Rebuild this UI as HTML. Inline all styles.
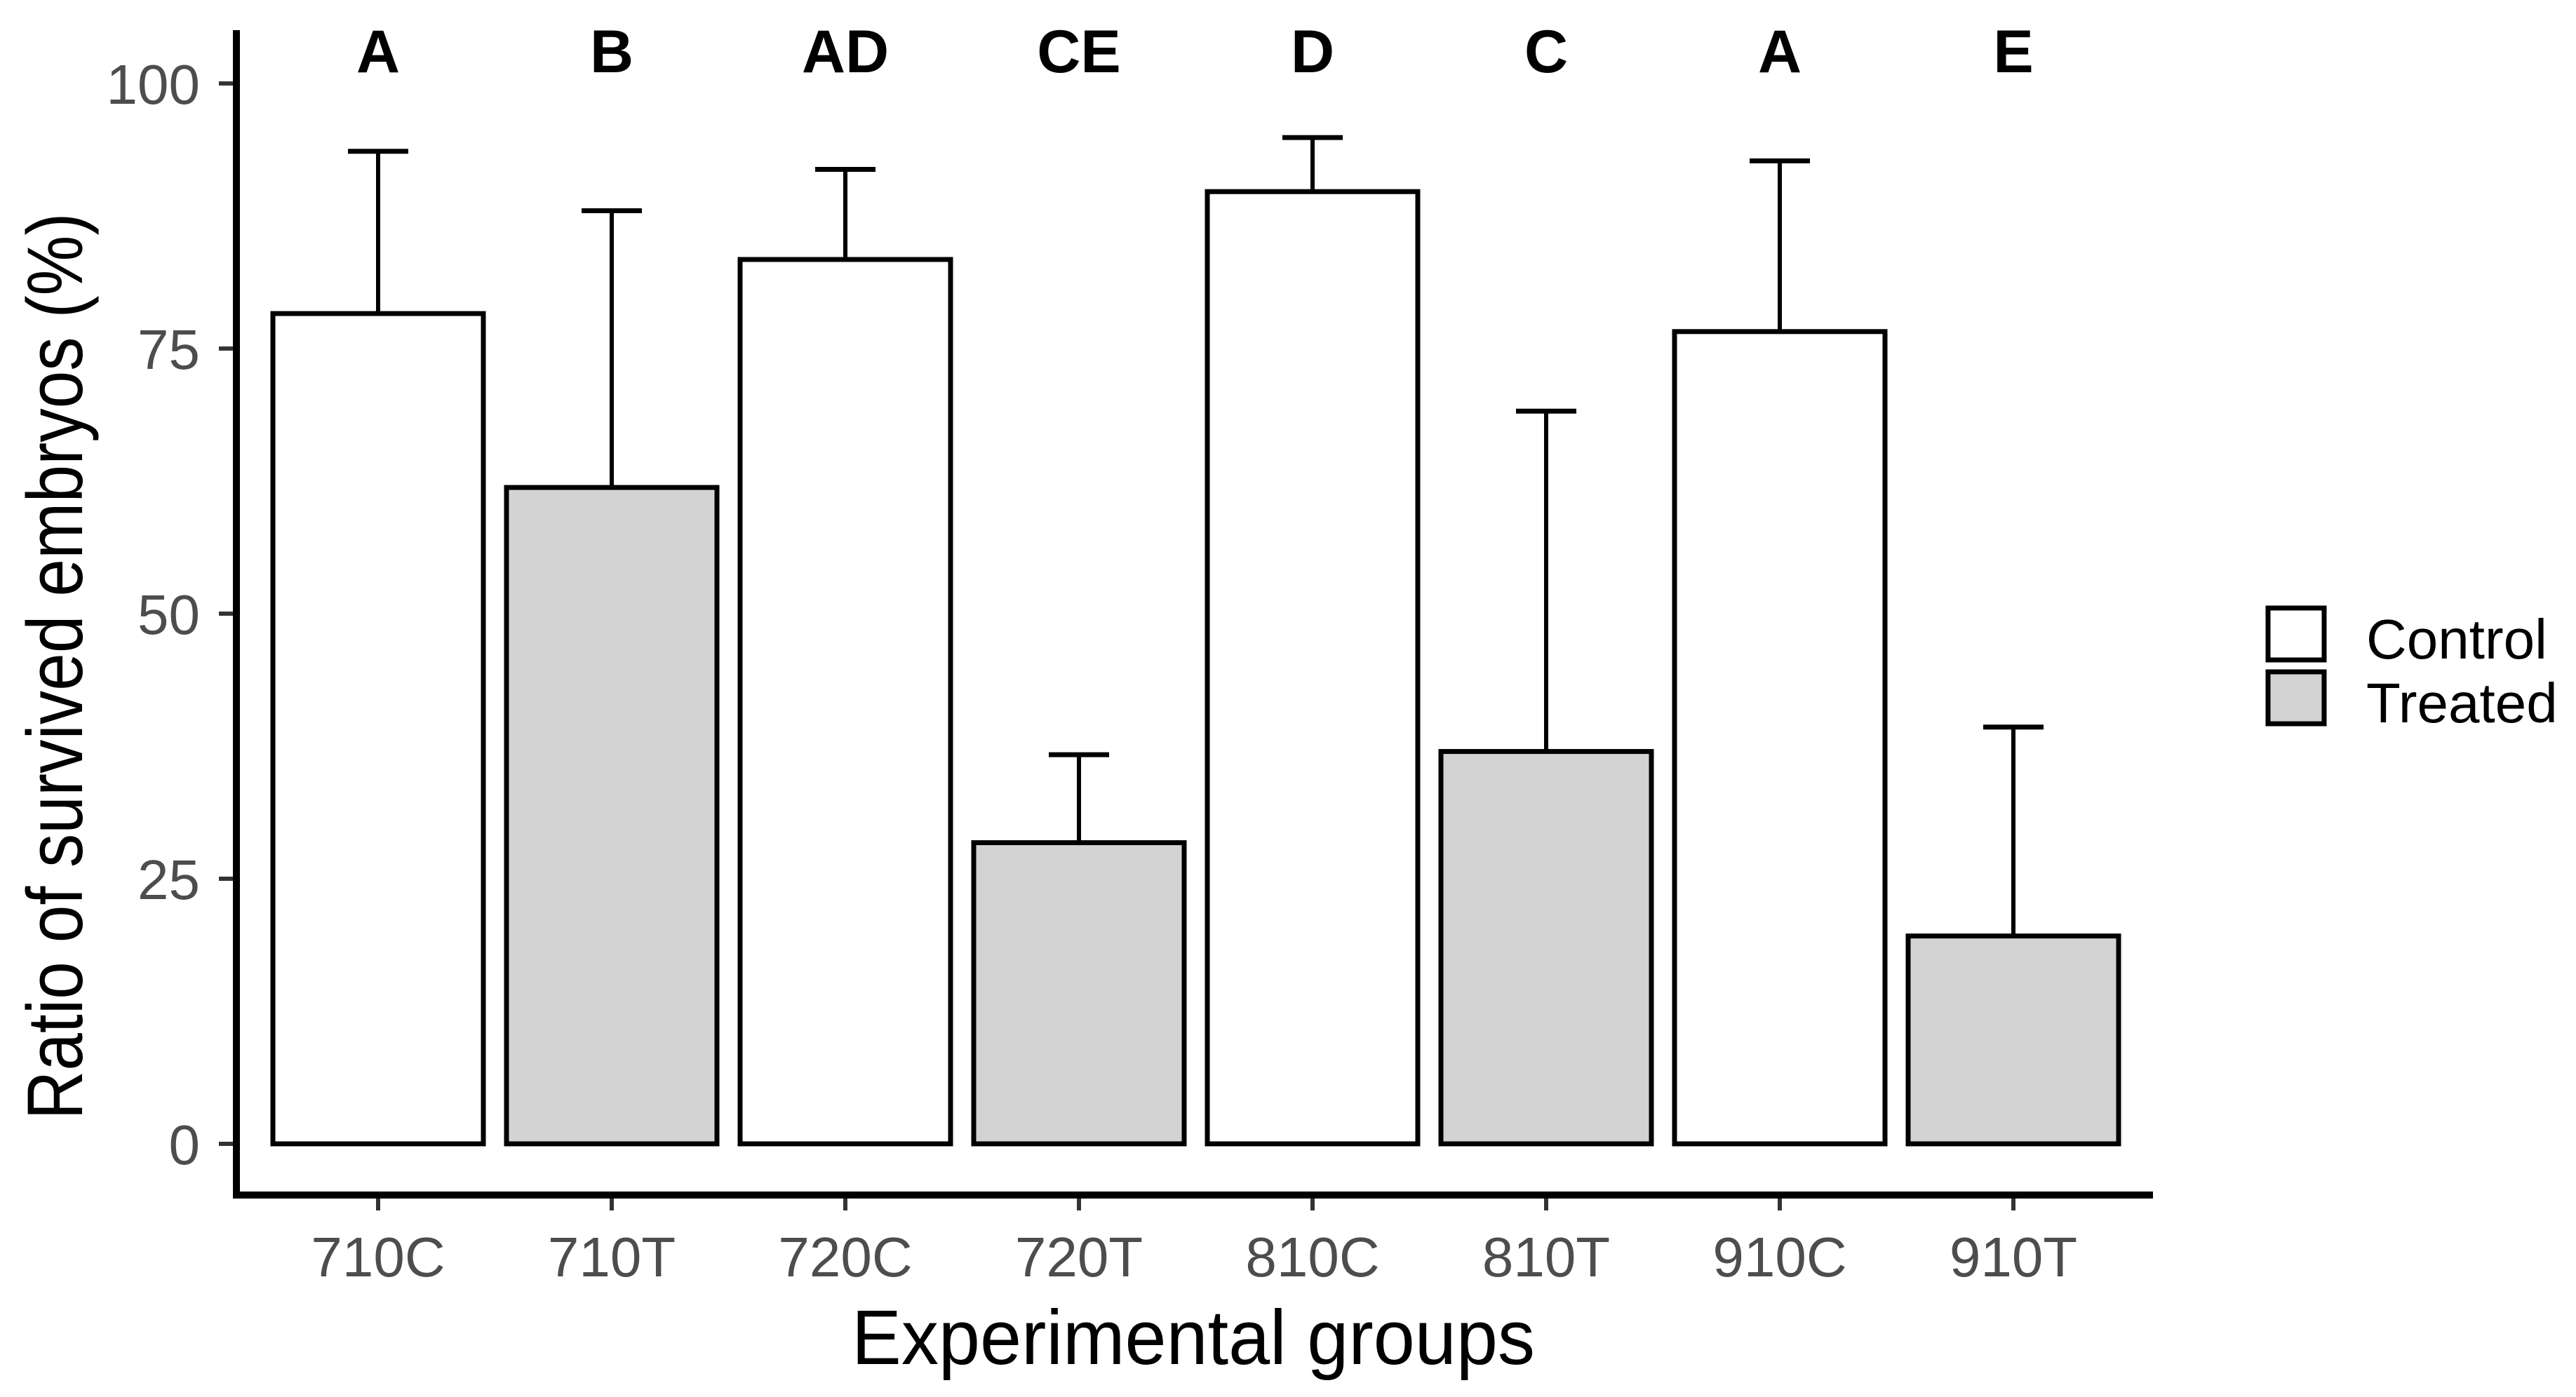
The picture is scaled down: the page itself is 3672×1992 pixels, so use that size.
<!DOCTYPE html>
<html><head><meta charset="utf-8"><style>
html,body{margin:0;padding:0;background:#fff;}
svg{display:block;font-family:"Liberation Sans",Arial,sans-serif;}
</style></head><body>
<svg id="chart" width="3672" height="1992" viewBox="0 0 3672 1992" xmlns="http://www.w3.org/2000/svg">
<g id="plot"></g>
<g id="axes"></g>
<text x="117" y="950" transform="rotate(-90 117 950)" text-anchor="middle" font-size="112" textLength="1293" lengthAdjust="spacingAndGlyphs" fill="#000">Ratio of survived embryos (%)</text>
<text x="1701" y="1945" text-anchor="middle" font-size="110" textLength="974" lengthAdjust="spacingAndGlyphs" fill="#000">Experimental groups</text>
<g>
<rect x="3233" y="867" width="80" height="74" fill="#fff" stroke="#000" stroke-width="7"/>
<rect x="3233" y="958" width="80" height="74" fill="#d3d3d3" stroke="#000" stroke-width="7"/>
<text x="3373" y="939" font-size="80" fill="#000">Control</text>
<text x="3373" y="1030" font-size="80" fill="#000">Treated</text>
</g>
</svg>
<script>
const categories = ["710C","710T","720C","720T","810C","810T","910C","910T"];
const means = [78.3, 61.9, 83.4, 28.4, 89.8, 37.0, 76.6, 19.6];
const errUpper = [93.6, 88.0, 91.9, 36.7, 94.9, 69.1, 92.7, 39.3];
const groupLetters = ["A","B","AD","CE","D","C","A","E"];
const treatment = ["Control","Treated","Control","Treated","Control","Treated","Control","Treated"];
const yTicks = [0, 25, 50, 75, 100];

const NS = "http://www.w3.org/2000/svg";
const y0 = 1631, y100 = 119;
function yScale(v){ return y0 - (v/100)*(y0 - y100); }
function xScale(i){ return 539 + i*333; }
const barW = 300, capW = 86;
const plot = document.getElementById('plot');
const axes = document.getElementById('axes');
function mk(tag, attrs, parent){ const e=document.createElementNS(NS,tag); for(const k in attrs) e.setAttribute(k, attrs[k]); parent.appendChild(e); return e; }

categories.forEach((c,i)=>{
  const cx = xScale(i);
  const top = yScale(means[i]);
  const et = yScale(errUpper[i]);
  const eb = mk('line',{x1:cx,x2:cx,y1:top,y2:et,stroke:'#000','stroke-width':6},plot);
  
  
  const cap = mk('line',{x1:cx-capW/2,x2:cx+capW/2,y1:et,y2:et,stroke:'#000','stroke-width':7},plot);
  
  
  const r = mk('rect',{x:cx-barW/2,y:top,width:barW,height:y0-top,fill:treatment[i]==='Control'?'#fff':'#d3d3d3',stroke:'#000','stroke-width':7},plot);
  
  
  const lt = mk('text',{x:cx,y:103,'text-anchor':'middle','font-size':86,'font-weight':'bold',fill:'#000'},plot);
  lt.textContent = groupLetters[i];
  
  
  const tk = mk('line',{x1:cx,x2:cx,y1:1704,y2:1726,stroke:'#333','stroke-width':6},axes);
  
  
  const tl = mk('text',{x:cx,y:1820,'text-anchor':'middle','font-size':80,fill:'#4d4d4d'},axes);
  tl.textContent = c;
  
  
});

yTicks.forEach(v=>{
  const y = yScale(v);
  const t = mk('line',{x1:312,x2:337,y1:y,y2:y,stroke:'#333','stroke-width':6},axes);
  
  
  const l = mk('text',{x:285,y:y+29,'text-anchor':'end','font-size':80,fill:'#4d4d4d'},axes);
  l.textContent = v;
  
  
});

const ya = mk('line',{x1:337,x2:337,y1:43,y2:1709,stroke:'#000','stroke-width':10},axes);


const xa = mk('line',{x1:332,x2:3069,y1:1704,y2:1704,stroke:'#000','stroke-width':10},axes);


</script>
</body></html>
